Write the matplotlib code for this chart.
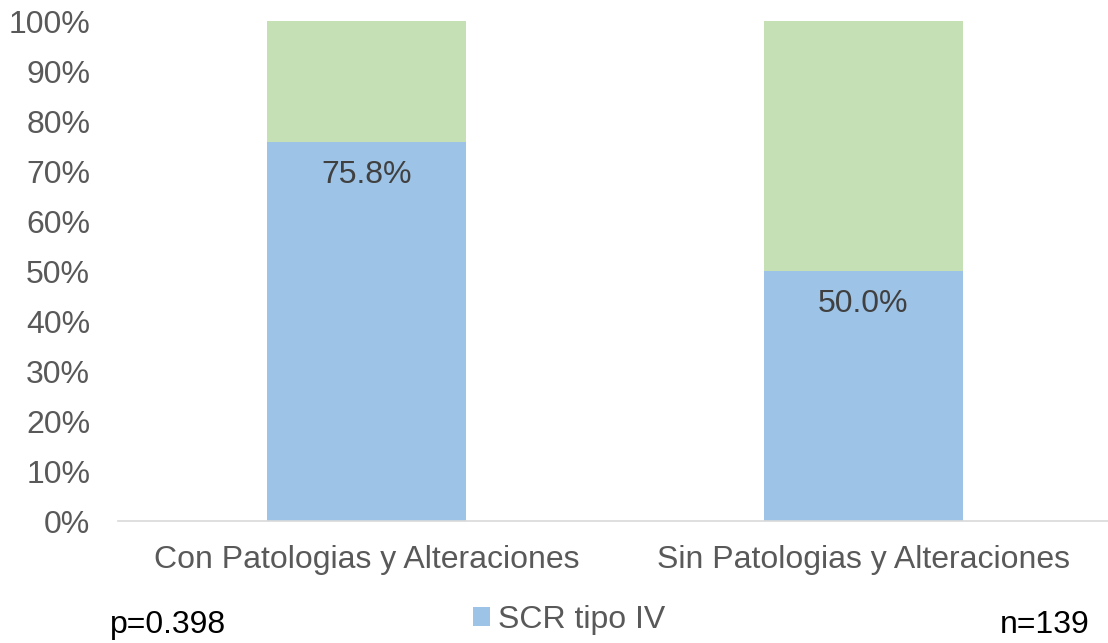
import matplotlib
matplotlib.use("Agg")
import matplotlib.pyplot as plt
from matplotlib.patches import Patch

plt.rcParams['font.family'] = ['Liberation Sans', 'DejaVu Sans']

categories = ["Con Patologias y Alteraciones", "Sin Patologias y Alteraciones"]
scr_iv = [75.8, 50.0]
other = [24.2, 50.0]
yticks = [0, 10, 20, 30, 40, 50, 60, 70, 80, 90, 100]

blue = "#9DC3E6"
green = "#C5E0B4"
gray_text = "#595959"
FS = 23

fig = plt.figure(figsize=(11.08, 6.43), dpi=100)
ax = fig.add_axes([0.1065, 0.1897, 0.897, 0.7776])

x = list(range(len(categories)))
ax.bar(x, scr_iv, width=0.4, color=blue, zorder=2)
ax.bar(x, other, width=0.4, bottom=scr_iv, color=green, zorder=2)

for xi, v in zip(x, scr_iv):
    ax.annotate(f"{v:.1f}%", (xi, v), xytext=(0, -23.5), textcoords="offset points",
                ha="center", va="center", fontsize=FS, color="#404040")

ax.set_xlim(-0.5, 1.5)
ax.set_ylim(0, 100)
ax.set_yticks(yticks)
ax.set_yticklabels([f"{t}%" for t in yticks], fontsize=FS, color=gray_text)
ax.set_xticks(x)
ax.set_xticklabels(categories, fontsize=FS, color=gray_text)
ax.tick_params(axis='both', length=0)
ax.tick_params(axis='y', pad=20)
ax.tick_params(axis='x', pad=17)
for s in ["top", "right", "left"]:
    ax.spines[s].set_visible(False)
ax.spines["bottom"].set_color("#D9D9D9")
ax.spines["bottom"].set_linewidth(1.2)

fig.legend(handles=[Patch(facecolor=blue, label="SCR tipo IV")],
           loc="center left", bbox_to_anchor=(0.4269, 0.0357),
           frameon=False, fontsize=FS, handlelength=0.53, handleheight=0.53,
           handletextpad=0.25, labelcolor=gray_text, borderaxespad=0, borderpad=0)

fig.text(0.0993, 0.028, "p=0.398", fontsize=FS, color="black", ha="left", va="center")
fig.text(0.9836, 0.028, "n=139", fontsize=FS, color="black", ha="right", va="center")

fig.savefig("out.png", dpi=100)
